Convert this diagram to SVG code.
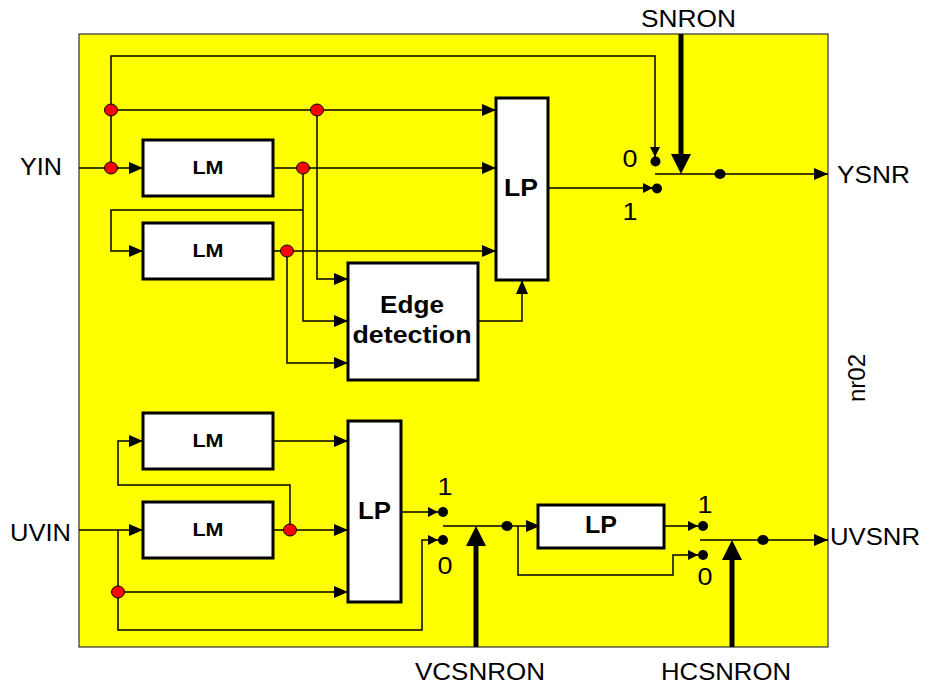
<svg xmlns="http://www.w3.org/2000/svg" width="933" height="684" viewBox="0 0 933 684">
<style>
.w{fill:none;stroke:#000;stroke-width:1.5}
.a{marker-end:url(#ar)}
.s{marker-end:url(#sm)}
.box{fill:#fff;stroke:#000;stroke-width:3}
.thick{fill:none;stroke:#000;stroke-width:5}
.rd{fill:#f00;stroke:#000;stroke-width:1}
.bd{fill:#000}
.lbl{font-family:"Liberation Sans",Arial,sans-serif;font-size:24px;fill:#000}
.bt{font-family:"Liberation Sans",Arial,sans-serif;font-weight:bold;fill:#000;text-anchor:middle}
.num{font-family:"Liberation Sans",Arial,sans-serif;font-size:23px;fill:#000;text-anchor:middle}
</style>
<defs>
<marker id="ar" viewBox="0 0 14 12" refX="14" refY="6" markerWidth="14" markerHeight="12" markerUnits="userSpaceOnUse" orient="auto"><path d="M0,0 L14,6 L0,12 z" fill="#000"/></marker>
<marker id="sm" viewBox="0 0 10 10" refX="10" refY="5" markerWidth="10" markerHeight="10" markerUnits="userSpaceOnUse" orient="auto"><path d="M0,0 L10,5 L0,10 z" fill="#000"/></marker>
</defs>
<rect x="79" y="34" width="749" height="613" fill="#ffff00" stroke="#333" stroke-width="1.2"/>

<g id="connectors">
<path class="w a" d="M79,168 H143"/>
<path class="w s" d="M111,168 V56 H655 V157"/>
<path class="w a" d="M111,110 H496"/>
<path class="w a" d="M317,110 V279 H348"/>
<path class="w a" d="M273,168 H496"/>
<path class="w a" d="M303,168 V321 H348"/>
<path class="w a" d="M303,210 H111 V251 H143"/>
<path class="w a" d="M273,251 H496"/>
<path class="w a" d="M287,251 V363 H348"/>
<path class="w a" d="M478,321 H522 V280"/>
<path class="w s" d="M548,188 H653"/>
<path class="w a" d="M655,174 H828"/>
<path class="thick" d="M681,34 V156"/>
<path d="M671,154 L691,154 L681,174 z" fill="#000"/>

<path class="w a" d="M273,441 H348"/>
<path class="w a" d="M290,530 V485 H118 V441 H143"/>
<path class="w a" d="M79,530 H143"/>
<path class="w a" d="M273,530 H348"/>
<path class="w s" d="M118,530 V630 H422 V540 H438"/>
<path class="w a" d="M118,592 H348"/>
<path class="w s" d="M401,512 H438"/>
<path class="w a" d="M443,526 H540"/>
<path class="w s" d="M518,526 V575 H673 V555 H698"/>
<path class="w s" d="M664,526 H698"/>
<path class="w a" d="M700,540 H828"/>
<path class="thick" d="M476,647 V544"/>
<path d="M466,546 L486,546 L476,526 z" fill="#000"/>
<path class="thick" d="M732,647 V558"/>
<path d="M722,560 L742,560 L732,540 z" fill="#000"/>

<ellipse class="rd" cx="111" cy="110" rx="6.5" ry="6"/>
<ellipse class="rd" cx="111" cy="168" rx="6.5" ry="6"/>
<ellipse class="rd" cx="317" cy="110" rx="6.5" ry="6"/>
<ellipse class="rd" cx="303" cy="168" rx="6.5" ry="6"/>
<ellipse class="rd" cx="287" cy="251" rx="6.5" ry="6"/>
<ellipse class="rd" cx="290" cy="530" rx="6.5" ry="6"/>
<ellipse class="rd" cx="118" cy="592" rx="6.5" ry="6"/>

<circle class="bd" cx="655.5" cy="161.5" r="5"/>
<circle class="bd" cx="657" cy="188.5" r="5"/>
<ellipse class="bd" cx="720" cy="174" rx="5.5" ry="5"/>
<circle class="bd" cx="443" cy="512" r="5"/>
<circle class="bd" cx="443" cy="540" r="5"/>
<ellipse class="bd" cx="507" cy="526" rx="5.5" ry="5"/>
<circle class="bd" cx="703" cy="526" r="5"/>
<circle class="bd" cx="703" cy="555" r="5"/>
<ellipse class="bd" cx="763" cy="540" rx="5.5" ry="5"/>
</g>

<g id="lm1"><rect class="box" x="143" y="140" width="130" height="56"/><text class="bt" x="208" y="174" font-size="19" textLength="31" lengthAdjust="spacingAndGlyphs">LM</text></g>
<g id="lm2"><rect class="box" x="143" y="223" width="130" height="56"/><text class="bt" x="208" y="257" font-size="19" textLength="31" lengthAdjust="spacingAndGlyphs">LM</text></g>
<g id="edge"><rect class="box" x="348" y="263" width="130" height="117"/><text class="bt" x="412" y="313" font-size="23" textLength="64" lengthAdjust="spacingAndGlyphs">Edge</text><text class="bt" x="412" y="343" font-size="23" textLength="119" lengthAdjust="spacingAndGlyphs">detection</text></g>
<g id="lp1"><rect class="box" x="496" y="98" width="52" height="182"/><text class="bt" x="521" y="196" font-size="24" textLength="34" lengthAdjust="spacingAndGlyphs">LP</text></g>
<g id="lm3"><rect class="box" x="143" y="413" width="130" height="56"/><text class="bt" x="208" y="447" font-size="19" textLength="31" lengthAdjust="spacingAndGlyphs">LM</text></g>
<g id="lm4"><rect class="box" x="143" y="502" width="130" height="56"/><text class="bt" x="208" y="536" font-size="19" textLength="31" lengthAdjust="spacingAndGlyphs">LM</text></g>
<g id="lp2"><rect class="box" x="348" y="421" width="53" height="181"/><text class="bt" x="374.5" y="519" font-size="24" textLength="33" lengthAdjust="spacingAndGlyphs">LP</text></g>
<g id="lp3"><rect class="box" x="538" y="505" width="126" height="43"/><text class="bt" x="601" y="533" font-size="23" textLength="32" lengthAdjust="spacingAndGlyphs">LP</text></g>

<g id="labels">
<text class="lbl" x="20" y="175" textLength="42" lengthAdjust="spacingAndGlyphs">YIN</text>
<text class="lbl" x="10" y="541" textLength="61" lengthAdjust="spacingAndGlyphs">UVIN</text>
<text class="lbl" x="641" y="27" textLength="95" lengthAdjust="spacingAndGlyphs">SNRON</text>
<text class="lbl" x="837" y="183" textLength="73" lengthAdjust="spacingAndGlyphs">YSNR</text>
<text class="lbl" x="830" y="545" textLength="90" lengthAdjust="spacingAndGlyphs">UVSNR</text>
<text class="lbl" x="415" y="680" textLength="130" lengthAdjust="spacingAndGlyphs">VCSNRON</text>
<text class="lbl" x="661" y="680" textLength="130" lengthAdjust="spacingAndGlyphs">HCSNRON</text>
<text class="lbl" font-size="17" text-anchor="middle" transform="translate(865,378) rotate(-90)">nr02</text>
<text class="num" x="630" y="167" textLength="15" lengthAdjust="spacingAndGlyphs">0</text>
<text class="num" x="630" y="220" textLength="15" lengthAdjust="spacingAndGlyphs">1</text>
<text class="num" x="445" y="495" textLength="15" lengthAdjust="spacingAndGlyphs">1</text>
<text class="num" x="445" y="574" textLength="15" lengthAdjust="spacingAndGlyphs">0</text>
<text class="num" x="705" y="513" textLength="15" lengthAdjust="spacingAndGlyphs">1</text>
<text class="num" x="705" y="585" textLength="15" lengthAdjust="spacingAndGlyphs">0</text>
</g>
</svg>
